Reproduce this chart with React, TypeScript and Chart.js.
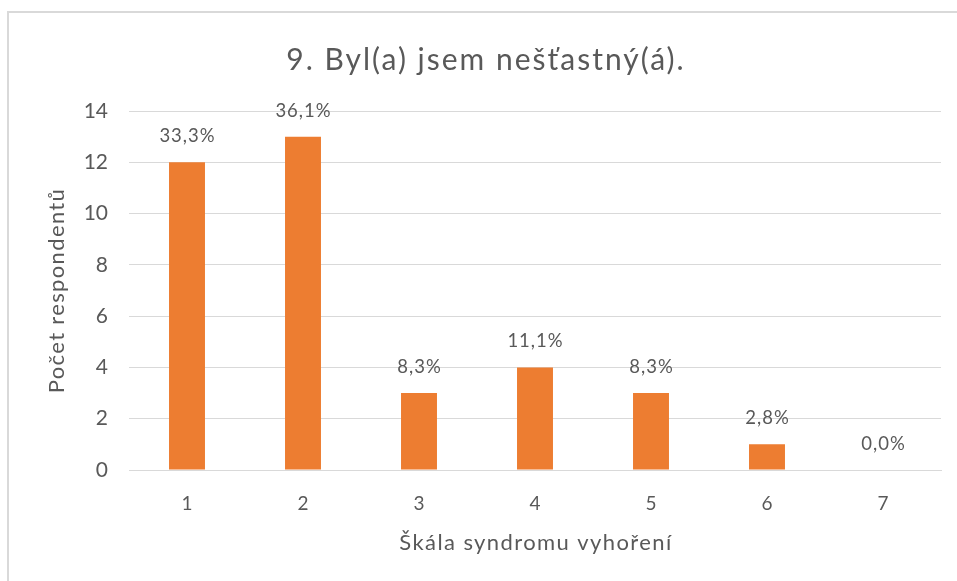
import React, { useEffect, useRef } from "react";
import { Chart, registerables } from "chart.js";

Chart.register(...registerables);

const TITLE = "9. Byl(a) jsem nešťastný(á).";
const X_TITLE = "Škála syndromu vyhoření";
const Y_TITLE = "Počet respondentů";
const categories = ["1", "2", "3", "4", "5", "6", "7"];
const counts = [12, 13, 3, 4, 3, 1, 0];
const percentLabels = ["33,3%", "36,1%", "8,3%", "11,1%", "8,3%", "2,8%", "0,0%"];

const FONT = "Lato, 'Open Sans', sans-serif";
const TEXT = "#595959";
const GRID = "#d9d9d9";
const BAR = "#ED7D31";

const labelPlugin = {
  id: "pctLabels",
  afterDatasetsDraw(chart: any) {
    const { ctx } = chart;
    const meta = chart.getDatasetMeta(0);
    ctx.save();
    ctx.fillStyle = TEXT;
    ctx.font = `18.5px ${FONT}`;
    (ctx as any).letterSpacing = "1px";
    ctx.textAlign = "center";
    ctx.textBaseline = "middle";
    meta.data.forEach((bar: any, i: number) => {
      ctx.fillText(percentLabels[i], bar.x + 0.5, bar.y - 26);
    });
    ctx.restore();
  },
};

const textPlugin = {
  id: "titles",
  afterDraw(chart: any) {
    const { ctx, chartArea } = chart;
    ctx.save();
    ctx.fillStyle = TEXT;
    ctx.textAlign = "center";
    ctx.textBaseline = "middle";
    // chart title
    ctx.font = `30px ${FONT}`;
    (ctx as any).letterSpacing = "2px";
    ctx.fillText(TITLE, 486, 60);
    // x axis title
    ctx.font = `22px ${FONT}`;
    (ctx as any).letterSpacing = "1.4px";
    ctx.fillText(X_TITLE, (chartArea.left + chartArea.right) / 2 + 1, 543);
    // y axis title
    (ctx as any).letterSpacing = "1.35px";
    ctx.translate(57, (chartArea.top + chartArea.bottom) / 2);
    ctx.rotate(-Math.PI / 2);
    ctx.fillText(Y_TITLE, 0, 0);
    ctx.restore();
  },
};

export default function App() {
  const ref = useRef<HTMLCanvasElement | null>(null);
  useEffect(() => {
    if (!ref.current) return;
    const chart = new Chart(ref.current, {
      type: "bar",
      data: {
        labels: categories,
        datasets: [
          {
            data: counts,
            backgroundColor: BAR,
            categoryPercentage: 1,
            barPercentage: 0.31,
          },
        ],
      },
      options: {
        animation: false,
        responsive: false,
        maintainAspectRatio: false,
        layout: { padding: { top: 111, right: 16, bottom: 0, left: 0 } },
        plugins: {
          legend: { display: false },
          tooltip: { enabled: false },
        },
        scales: {
          x: {
            grid: { display: false, drawTicks: false },
            border: { display: true, color: GRID, width: 1 },
            ticks: { color: TEXT, font: { family: FONT, size: 19 }, padding: 22 },
            afterFit: (s: any) => {
              s.height = 111;
            },
          },
          y: {
            min: 0,
            max: 14,
            ticks: { stepSize: 2, color: TEXT, font: { family: FONT, size: 21 }, padding: 21 },
            grid: { color: GRID, drawTicks: false },
            border: { display: false },
            afterFit: (s: any) => {
              s.width = 129;
            },
          },
        },
      },
      plugins: [labelPlugin, textPlugin],
    });
    return () => chart.destroy();
  }, []);
  return (
    <div style={{ position: "fixed", left: 0, top: 0, width: 957, height: 581, background: "#fff", overflow: "hidden" }}>
      <div
        style={{
          position: "absolute",
          left: 7,
          top: 11,
          width: 1000,
          height: 700,
          borderLeft: "2px solid #d9d9d9",
          borderTop: "2px solid #d9d9d9",
        }}
      />
      <canvas ref={ref} width={957} height={581} style={{ position: "absolute", left: 0, top: 0 }} />
    </div>
  );
}
